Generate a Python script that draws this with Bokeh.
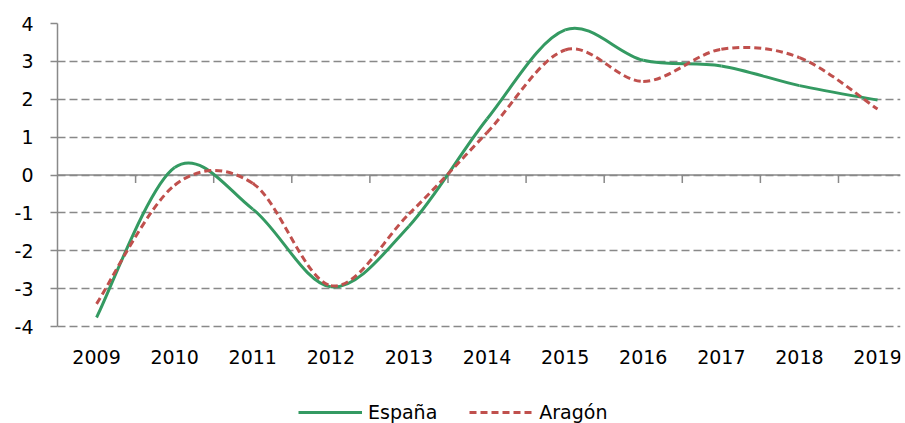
from bokeh.plotting import figure
from bokeh.models import (Range1d, FixedTicker, Legend, LegendItem, ColumnDataSource, Span)
from bokeh.core.properties import value
from bokeh.embed import file_html
from bokeh.resources import INLINE

years = ["2009", "2010", "2011", "2012", "2013", "2014", "2015", "2016", "2017", "2018", "2019"]
espana = [-3.76, 0.2, -0.9, -2.95, -1.35, 1.48, 3.83, 3.03, 2.88, 2.36, 1.98]
aragon = [-3.4, -0.27, -0.22, -2.92, -1.03, 1.12, 3.3, 2.47, 3.32, 3.1, 1.74]
y_ticks = [-4, -3, -2, -1, 0, 1, 2, 3, 4]

GREEN = "#349a62"
RED = "#c0504d"
GRAY = "#898989"
FONT = "DejaVu Sans"


def smooth_source(xs, ys):
    """Bezier segments between consecutive data points (Excel-style smoothed line)."""
    n = len(xs)
    d = dict(x0=[], y0=[], x1=[], y1=[], cx0=[], cy0=[], cx1=[], cy1=[])
    for i in range(n - 1):
        ip = max(i - 1, 0)
        inn = min(i + 2, n - 1)
        d["x0"].append(xs[i]); d["y0"].append(ys[i])
        d["x1"].append(xs[i + 1]); d["y1"].append(ys[i + 1])
        d["cx0"].append(xs[i] + (xs[i + 1] - xs[ip]) / 6.0)
        d["cy0"].append(ys[i] + (ys[i + 1] - ys[ip]) / 6.0)
        d["cx1"].append(xs[i + 1] - (xs[inn] - xs[i]) / 6.0)
        d["cy1"].append(ys[i + 1] - (ys[inn] - ys[i]) / 6.0)
    return ColumnDataSource(d)


xs = list(range(len(years)))
bounds = [i + 0.5 for i in xs]
y_min, y_max = y_ticks[0], y_ticks[-1]

# The frame reaches down to the canvas bottom so the legend (inside it) can sit below the axis.
p = figure(width=905, height=423, output_backend="svg", toolbar_location=None,
           x_range=Range1d(-0.5, 10.294), y_range=Range1d(y_min - 2.56, y_max),
           x_axis_location=None,
           min_border_left=57, min_border_right=5, min_border_top=23, min_border_bottom=0)
p.outline_line_color = None
p.background_fill_color = "white"
p.border_fill_color = "white"

# y axis
yax = p.yaxis[0]
yax.ticker = FixedTicker(ticks=y_ticks)
yax.bounds = (y_min, y_max)
yax.major_label_overrides = {t: str(t) for t in y_ticks}
yax.axis_line_color = GRAY
yax.axis_line_width = 1.5
yax.major_tick_line_color = GRAY
yax.major_tick_line_width = 1.5
yax.major_tick_in = 0
yax.major_tick_out = 7
yax.minor_tick_line_color = None
yax.major_label_standoff = 17
yax.major_label_text_font = FONT
yax.major_label_text_font_size = "19px"
yax.major_label_text_color = "#000000"

# grid
p.ygrid.ticker = FixedTicker(ticks=y_ticks)
p.ygrid.grid_line_color = GRAY
p.ygrid.grid_line_width = 1.4
p.ygrid.grid_line_dash = "8 4"
p.xgrid.grid_line_color = None

# solid horizontal axis line at zero, with category boundary ticks hanging below it
zero_line = Span(location=0, dimension="width", line_color=GRAY, line_width=1.5, level="underlay")
p.add_layout(zero_line)
p.segment(x0=bounds, y0=[0] * len(bounds), x1=bounds, y1=[-0.21] * len(bounds),
          line_color=GRAY, line_width=1.5)

# category labels below the bottom gridline
p.text(x=xs, y=[y_min] * len(xs), text=years, y_offset=30,
       text_align="center", text_baseline="middle",
       text_font=value(FONT), text_font_size="19px", text_color="#000000")

src_e = smooth_source(xs, espana)
src_a = smooth_source(xs, aragon)
r_e = p.bezier(x0="x0", y0="y0", x1="x1", y1="y1", cx0="cx0", cy0="cy0", cx1="cx1", cy1="cy1",
               source=src_e, line_color=GREEN, line_width=3)
r_a = p.bezier(x0="x0", y0="y0", x1="x1", y1="y1", cx0="cx0", cy0="cy0", cx1="cx1", cy1="cy1",
               source=src_a, line_color=RED, line_width=3, line_dash="7 4")

legend = Legend(items=[LegendItem(label="España", renderers=[r_e]),
                       LegendItem(label="Aragón", renderers=[r_a])],
                orientation="horizontal", location=(241, 0))
legend.glyph_width = 64
legend.glyph_height = 20
legend.label_standoff = 6
legend.spacing = 32
legend.padding = 0
legend.margin = 0
legend.border_line_color = None
legend.background_fill_alpha = 0
legend.label_text_font = FONT
legend.label_text_font_size = "19px"
legend.label_text_color = "#000000"
p.add_layout(legend)

open("out.html", "w").write(file_html(p, INLINE))
